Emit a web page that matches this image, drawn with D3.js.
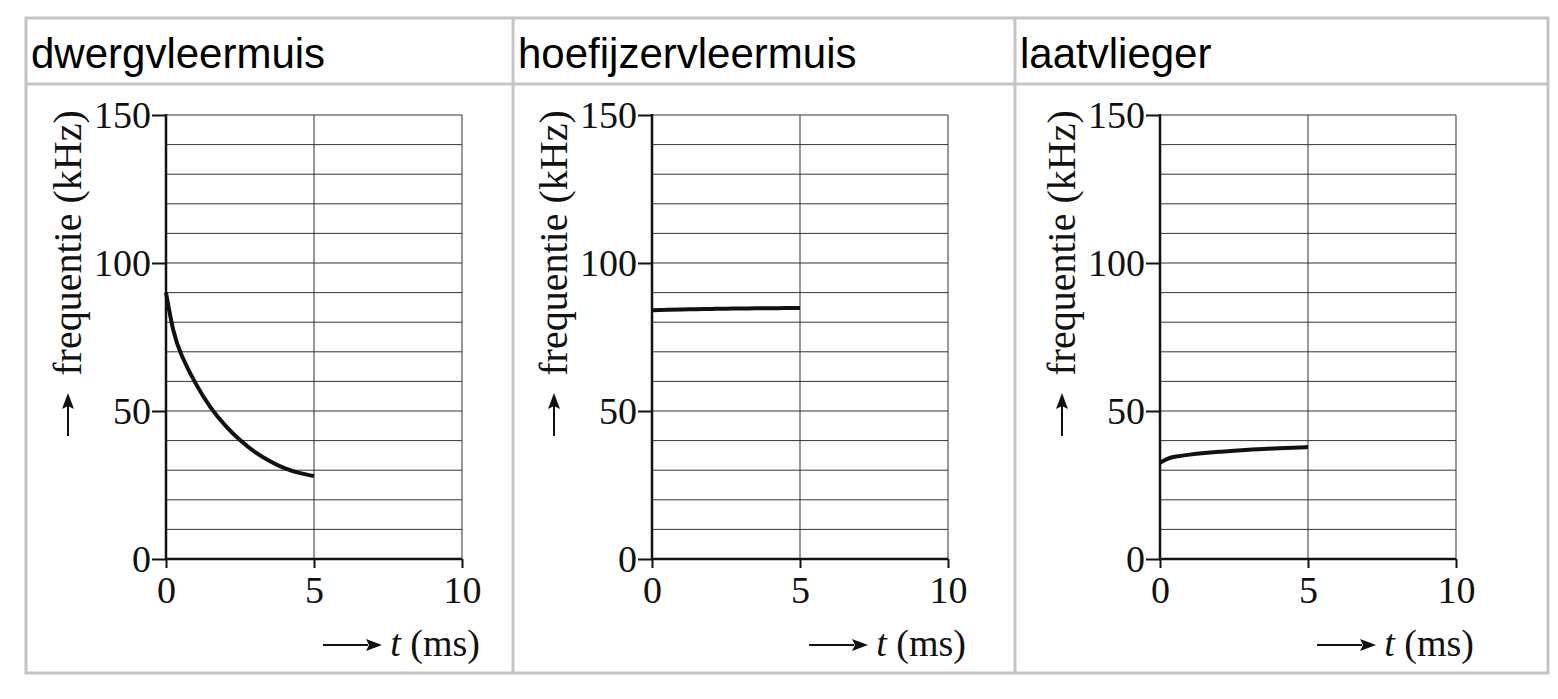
<!DOCTYPE html>
<html><head><meta charset="utf-8">
<script src="https://cdn.jsdelivr.net/npm/d3@7"></script>
<style>body{margin:0;background:#fff}</style></head>
<body><svg id="c" width="1558" height="699"></svg>
<script>
// panel titles and curves (t in ms, f in kHz)
var titles = ["dwergvleermuis", "hoefijzervleermuis", "laatvlieger"];
var tValues = [0, 0.25, 0.5, 1, 1.5, 2, 2.5, 3, 3.5, 4, 4.5, 5];
var dwerg = [90, 76, 69, 59, 51, 45, 40, 36, 33, 30.5, 29, 28];
var hoef = [84, 84.1, 84.2, 84.3, 84.4, 84.5, 84.6, 84.6, 84.7, 84.7, 84.8, 84.8];
var laat = [32.5, 34, 34.6, 35.3, 35.8, 36.2, 36.6, 36.9, 37.2, 37.4, 37.6, 37.8];
var series = [dwerg, hoef, laat];
var yTicks = [0, 50, 100, 150];
var xTicks = [0, 5, 10];

var svg = d3.select("#c");
var cells = [26, 513, 1015, 1548];
var axisX = [166, 652, 1160];
var frameTop = 18, headBottom = 84, frameBottom = 673;
var grey = "#c4c4c4";
var serif = "Liberation Serif, Times New Roman, serif";

// table frame
svg.append("rect").attr("x", 26).attr("y", frameTop).attr("width", 1522).attr("height", frameBottom - frameTop)
  .attr("fill", "none").attr("stroke", grey).attr("stroke-width", 3);
svg.append("line").attr("x1", 26).attr("x2", 1548).attr("y1", headBottom).attr("y2", headBottom)
  .attr("stroke", grey).attr("stroke-width", 3);
[513, 1015].forEach(function (x) {
  svg.append("line").attr("x1", x).attr("x2", x).attr("y1", frameTop).attr("y2", frameBottom)
    .attr("stroke", grey).attr("stroke-width", 3);
});

titles.forEach(function (title, i) {
  svg.append("text").attr("x", cells[i] + 5).attr("y", 68).text(title)
    .attr("font-family", "Liberation Sans, Arial").attr("font-size", 42).attr("fill", "#000");

  var x0 = axisX[i];
  var x = d3.scaleLinear().domain([0, 10]).range([x0, x0 + 296]);
  var y = d3.scaleLinear().domain([0, 150]).range([559, 115]);
  var g = svg.append("g");

  // grid
  g.selectAll(".h").data(d3.range(10, 151, 10)).enter().append("line")
    .attr("x1", x(0)).attr("x2", x(10)).attr("y1", y).attr("y2", y)
    .attr("stroke", "#333").attr("stroke-width", 1);
  [5, 10].forEach(function (v) {
    g.append("line").attr("x1", x(v)).attr("x2", x(v)).attr("y1", y(0)).attr("y2", y(150))
      .attr("stroke", "#333").attr("stroke-width", 1);
  });

  var ya = g.append("g").attr("transform", "translate(" + x0 + ",0)")
    .call(d3.axisLeft(y).tickValues(yTicks).tickSize(14).tickPadding(1));
  var xa = g.append("g").attr("transform", "translate(0," + y(0) + ")")
    .call(d3.axisBottom(x).tickValues(xTicks).tickSize(9).tickPadding(6));
  [ya, xa].forEach(function (a) {
    a.select(".domain").remove();
    a.selectAll("line").attr("stroke", "#111").attr("stroke-width", 2);
    a.selectAll("text").attr("font-family", serif).attr("font-size", 38).attr("fill", "#111");
  });
  xa.selectAll("text").attr("dy", "0.75em");
  ya.selectAll("text").attr("dy", "0.33em");
  g.append("line").attr("x1", x0).attr("x2", x0).attr("y1", y(150) - 1).attr("y2", y(0) + 1)
    .attr("stroke", "#111").attr("stroke-width", 2.5);
  g.append("line").attr("x1", x0).attr("x2", x(10)).attr("y1", y(0)).attr("y2", y(0))
    .attr("stroke", "#111").attr("stroke-width", 2.5);

  // curve
  g.append("path").datum(tValues.map(function (t, j) { return [t, series[i][j]]; }))
    .attr("d", d3.line().x(function (d) { return x(d[0]); }).y(function (d) { return y(d[1]); }).curve(d3.curveBasis))
    .attr("fill", "none").attr("stroke", "#111").attr("stroke-width", 4);

  // y label
  var yl = svg.append("g").attr("transform", "translate(" + (x0 - 98) + ",243) rotate(-90)");
  yl.append("text").attr("text-anchor", "middle").attr("dy", "0.33em")
    .attr("font-family", serif).attr("font-size", 40).attr("fill", "#111")
    .text("frequentie (kHz)");
  yl.append("line").attr("x1", -193).attr("x2", -162).attr("y1", 0).attr("y2", 0)
    .attr("stroke", "#111").attr("stroke-width", 2);
  yl.append("path").attr("d", "M-150,0 L-166,-6 L-163,0 L-166,6 Z").attr("fill", "#111");

  // x label
  var xl = svg.append("g").attr("transform", "translate(" + (x(10) + 18) + ",656)");
  var tx = xl.append("text").attr("text-anchor", "end")
    .attr("font-family", serif).attr("font-size", 38).attr("fill", "#111");
  tx.append("tspan").attr("font-style", "italic").text("t");
  tx.append("tspan").text(" (ms)");
  xl.append("line").attr("x1", -157).attr("x2", -112).attr("y1", -11).attr("y2", -11)
    .attr("stroke", "#111").attr("stroke-width", 2);
  xl.append("path").attr("d", "M-98,-11 L-114,-17 L-111,-11 L-114,-5 Z").attr("fill", "#111");
});
</script></body></html>
